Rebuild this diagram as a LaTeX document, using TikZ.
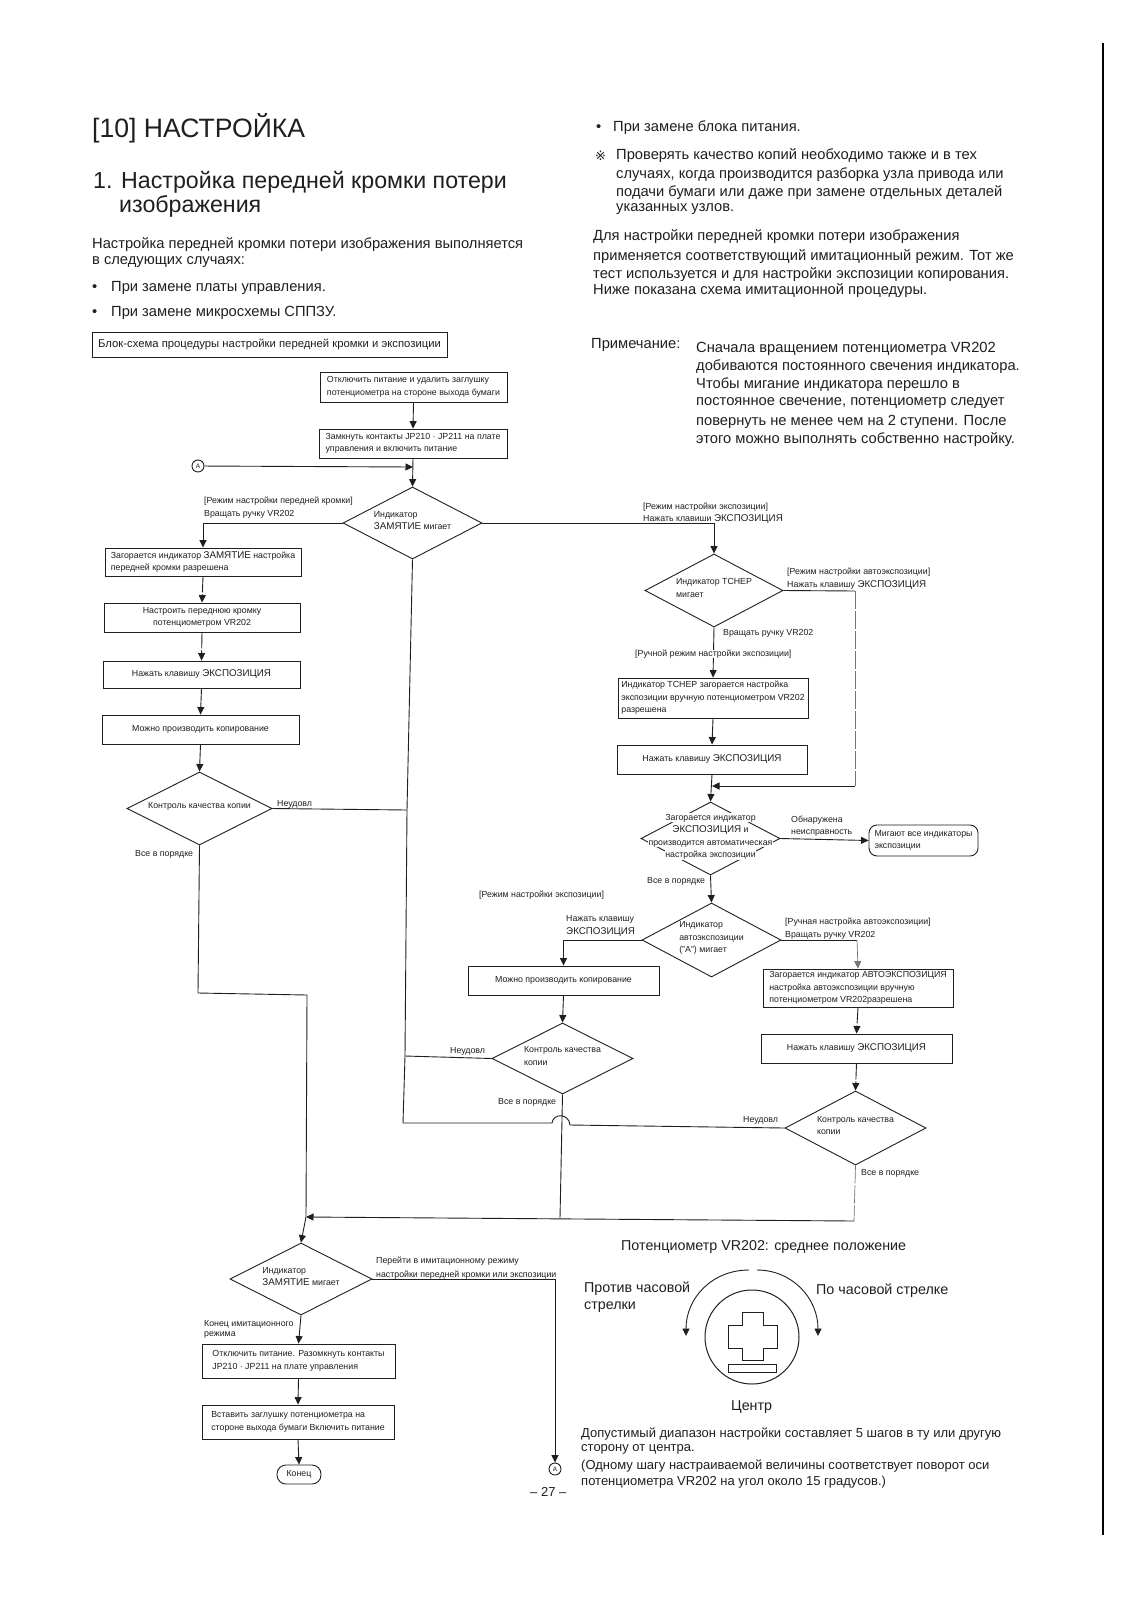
\documentclass[tikz,border=0pt]{standalone}
\usepackage{fontspec}
\setmainfont{Liberation Sans}
\newfontfamily\symfam{DejaVu Sans}
\usetikzlibrary{arrows.meta,shapes.geometric}
\definecolor{ink}{gray}{0.12}
\definecolor{soft}{gray}{0.45}
\newcommand{\CAPS}[1]{{\fontsize{9.8}{12}\selectfont #1}}
\newcommand{\wl}[1]{{\setlength{\fboxsep}{0.6pt}\colorbox{white}{#1}}}
\newcommand{\ctr}[1]{\smash{\makebox[0pt]{\begin{tabular}{@{}l@{}}#1\end{tabular}}}}
\newcommand{\ctrc}[1]{\smash{\makebox[0pt]{\begin{tabular}{@{}c@{}}#1\end{tabular}}}}
\tikzset{
  x=1pt,y=-1pt,
  flow/.style={draw=ink,line width=0.9pt},
  fl/.style={flow,-{Triangle[length=7.5pt,width=7pt]}},
  faint/.style={dash pattern=on 16pt off 2pt},
  paler/.style={draw=soft,line width=0.7pt,dash pattern=on 18pt off 2pt},
  txt/.style={anchor=west,inner sep=0pt,text=ink,align=left},
  body/.style={txt,font=\fontsize{14.7}{18}\selectfont},
  foot/.style={txt,font=\fontsize{13}{16}\selectfont},
  small/.style={txt,font=\fontsize{8.8}{12.5}\selectfont},
  big/.style={txt,font=\fontsize{14.3}{18}\selectfont},
  boxn/.style={draw=ink,line width=0.9pt,inner sep=1pt,fill=white,text=ink,font=\fontsize{8.8}{12.5}\selectfont},
  dia/.style={shape=diamond,draw=ink,line width=0.9pt,inner sep=0pt,text=ink,font=\fontsize{8.8}{12.5}\selectfont},
  ring/.style={circle,draw=ink,line width=0.9pt,minimum size=12pt,inner sep=0pt,font=\fontsize{6.5}{7}\selectfont,text=ink},
}
\newcommand{\bx}[7][]{\node[boxn,#1,minimum width={(#4-#2)*1pt},minimum height={(#5-#3)*1pt},#7] (#6) at ({(#2+#4)/2},{(#3+#5)/2})}
\newcommand{\dm}[6]{\node[dia,minimum width={(#3-#2)*1pt},minimum height={(#5-#4)*1pt}] (#1) at ({(#2+#3)/2},{(#4+#5)/2}) {#6};}
\begin{document}
\begin{tikzpicture}
\useasboundingbox[fill=white] (0,0) rectangle (1131,1600);
% page text, left
\node[txt,font=\fontsize{26.6}{30}\selectfont] (h1) at (92,128) {[10] НАСТРОЙКА};
\node[txt,font=\fontsize{23.2}{28}\selectfont] (h2a) at (93,182) {1. Настройка передней кромки потери};
\node[txt,font=\fontsize{23.2}{28}\selectfont] (h2b) at (119,206) {изображения};
\node[body] (p1) at (92,245) {Настройка передней кромки потери изображения выполняется};
\node[body] (p2) at (92,262) {в следующих случаях:};
\node[body] (bu1) at (92,288) {•};
\node[body] (t1) at (111,288) {При замене платы управления.};
\node[body] (bu2) at (92,313) {•};
\node[body] (t2) at (111,313) {При замене микросхемы СППЗУ.};
\bx{92}{332}{447}{357}{tb}{font=\fontsize{11.3}{13}\selectfont} {Блок-схема процедуры настройки передней кромки и экспозиции};
% page text, right
\node[body] (bu3) at (596,128) {•};
\node[body] (t3) at (613,128) {При замене блока питания.};
\node[txt,font=\symfam\fontsize{13}{14}\selectfont] (ref) at (595,156) {※};
\node[body] (r1) at (616,156) {Проверять качество копий необходимо также и в тех};
\node[body] (r2) at (616,175) {случаях, когда производится разборка узла привода или};
\node[body] (r3) at (616,193) {подачи бумаги или даже при замене отдельных деталей};
\node[body] (r4) at (616,209) {указанных узлов.};
\node[body] (r5) at (593,237) {Для настройки передней кромки потери изображения};
\node[body] (r6) at (593,257) {применяется соответствующий имитационный режим. Тот же};
\node[body] (r7) at (593,275) {тест используется и для настройки экспозиции копирования.};
\node[body] (r8) at (593,291) {Ниже показана схема имитационной процедуры.};
\node[body] (n0) at (591,345) {Примечание:};
\node[body] (n1) at (696,349) {Сначала вращением потенциометра VR202};
\node[body] (n2) at (696,367) {добиваются постоянного свечения индикатора.};
\node[body] (n3) at (696,385) {Чтобы мигание индикатора перешло в};
\node[body] (n4) at (696,403) {постоянное свечение, потенциометр следует};
\node[body] (n5) at (696,422) {повернуть не менее чем на 2 ступени. После};
\node[body] (n6) at (696,440) {этого можно выполнять собственно настройку.};
\coordinate (mt) at (1103,43);
\coordinate (mb) at (1103,1535);
\draw[line width=2.6pt,black] (mt) -- (mb);
% boxes
\bx[align=left]{320}{372}{507}{402}{b1}{} {Отключить питание и удалить заглушку\\потенциометра на стороне выхода бумаги};
\bx[align=left]{319}{429}{507}{458}{b2}{} {Замкнуть контакты JP210 · JP211 на плате\\управления и включить питание};
\bx[align=left]{105}{548}{301}{576}{b3}{} {Загорается индикатор \CAPS{ЗАМЯТИЕ} настройка\\передней кромки разрешена};
\bx[align=center]{104}{603}{300}{632}{b4}{} {Настроить переднюю кромку\\потенциометром VR202};
\bx{103}{661}{300}{688}{b5}{} {Нажать клавишу \CAPS{ЭКСПОЗИЦИЯ}};
\bx{102}{715}{299}{744}{b6}{} {Можно производить копирование};
\bx[align=left]{618}{678}{808}{718}{b7}{} {Индикатор ТСНЕР загорается настройка\\экспозиции вручную потенциометром VR202\\разрешена};
\bx{617}{745}{807}{774}{b8}{} {Нажать клавишу \CAPS{ЭКСПОЗИЦИЯ}};
\bx[align=left,rounded corners=8pt]{869}{825}{978}{856}{rb}{} {Мигают все индикаторы\\экспозиции};
\bx{468}{966}{659}{995}{b9}{} {Можно производить копирование};
\bx[align=left]{763}{969}{953}{1007}{b10}{} {Загорается индикатор АВТОЭКСПОЗИЦИЯ\\настройка автоэкспозиции вручную\\потенциометром VR202разрешена};
\bx{761}{1034}{952}{1063}{b11}{} {Нажать клавишу \CAPS{ЭКСПОЗИЦИЯ}};
\bx[align=left]{202}{1344}{395}{1378}{b12}{} {Отключить питание. Разомкнуть контакты\\JP210 · JP211 на плате управления};
\bx[align=left]{202}{1405}{394}{1439}{b13}{} {Вставить заглушку потенциометра на\\стороне выхода бумаги Включить питание};
\bx[rounded corners=9pt]{277}{1465}{321}{1484}{endn}{} {Конец};
% diamonds
\dm{d1}{343}{482}{487}{559}{\ctr{Индикатор\\\CAPS{ЗАМЯТИЕ} мигает}}
\dm{d2}{645}{783}{554}{627}{\ctr{Индикатор ТСНЕР\\мигает}}
\dm{d3}{641}{780}{802}{875}{\ctrc{\wl{Загорается индикатор}\\\wl{\CAPS{ЭКСПОЗИЦИЯ} и}\\\wl{производится автоматическая}\\\wl{настройка экспозиции}}}
\dm{d4}{642}{781}{903}{977}{\ctr{Индикатор\\автоэкспозиции\\("А") мигает}}
\dm{d5}{785}{926}{1091}{1165}{\ctr{Контроль качества\\копии}}
\dm{d6}{492}{633}{1023}{1094}{\ctr{Контроль качества\\копии}}
\dm{d7}{127}{272}{772}{845}{\ctr{Контроль качества копии}}
\dm{d8}{230}{372}{1243}{1315}{\ctr{Индикатор\\\CAPS{ЗАМЯТИЕ} мигает}}
% connector circles
\node[ring] (a1) at (198,466) {А};
\node[ring] (a2) at (555,1469) {А};
% junction coordinates
\coordinate (j1) at (413,467);
\coordinate (j2) at (407,810);
\coordinate (j3) at (405,1056);
\coordinate (k1) at (403,1123);
\coordinate (hl) at (552,1123);
\coordinate (hr) at (570,1125);
\coordinate (hc1) at (553,1113);
\coordinate (hc2) at (569,1113);
\coordinate (m1) at (560,1218);
\coordinate (c5) at (854,1221);
\coordinate (j8) at (306,1217);
\coordinate (c7a) at (198,993);
\coordinate (c7b) at (307,995);
\coordinate (c2a) at (855,591);
\coordinate (c2b) at (855,786);
\coordinate (j9) at (712,786);
\coordinate (c4) at (857,940);
% connectors
\draw[fl] (b1.south) -- (b2.north);
\draw[fl] (b2.south) -- (d1.north);
\draw[fl] (a1) -- (j1);
\draw[fl] (d1.west) -| (b3.north);
\draw[fl,faint] (b3.south) -- (b4.north);
\draw[fl,faint] (b4.south) -- (b5.north);
\draw[fl] (b5.south) -- (b6.north);
\draw[fl] (b6.south) -- (d7.north);
\draw[flow] (d7.east) -- (j2);
\draw[flow] (d1.south) -- (j2) -- (j3) -- (k1) -- (hl) .. controls (hc1) and (hc2) .. (hr) -- (d5.west);
\draw[flow] (d6.west) -- (j3);
\draw[fl] (d1.east) -| (d2.north);
\draw[fl] (d2.south) -- (b7.north);
\draw[fl] (b7.south) -- (b8.north);
\draw[fl] (b8.south) -- (d3.north);
\draw[flow] (d2.east) -- (c2a);
\draw[paler] (c2a) -- (c2b);
\draw[fl] (c2b) -- (j9);
\draw[fl] (d3.east) -- (rb.west);
\draw[fl] (d3.south) -- (d4.north);
\draw[fl] (d4.west) -| (b9.north);
\draw[flow] (d4.east) -- (c4);
\draw[fl,paler,solid] (c4) -- (b10.north);
\draw[fl] (b9.south) -- (d6.north);
\draw[fl,faint] (b10.south) -- (b11.north);
\draw[fl,faint] (b11.south) -- (d5.north);
\draw[flow] (d6.south) -- (m1);
\draw[paler] (d5.south) -- (c5);
\draw[fl] (c5) -- (j8);
\draw[flow] (d7.south) -- (c7a) -- (c7b) -- (j8);
\draw[fl] (j8) -- (d8.north);
\draw[fl] (d8.south) -- (b12.north);
\draw[fl] (b12.south) -- (b13.north);
\draw[fl] (b13.south) -- (endn.north);
\draw[fl] (d8.east) -| (a2.north);
% labels
\node[small] (l1) at (204,501) {[Режим настройки передней кромки]};
\node[small] (l2) at (204,514) {Вращать ручку VR202};
\node[small] (l3) at (643,507) {[Режим настройки экспозиции]};
\node[small] (l4) at (643,519) {Нажать клавиши \CAPS{ЭКСПОЗИЦИЯ}};
\node[small] (l5) at (787,572) {[Режим настройки автоэкспозиции]};
\node[small] (l6) at (787,585) {Нажать клавишу \CAPS{ЭКСПОЗИЦИЯ}};
\node[small] (l7) at (723,633) {Вращать ручку VR202};
\node[small,fill=white] (l8) at (635,654) {[Ручной режим настройки экспозиции]};
\node[small] (l9) at (791,820) {Обнаружена};
\node[small] (l10) at (791,833) {неисправность};
\node[small] (l11) at (647,881) {Все в порядке};
\node[small] (l12) at (479,895) {[Режим настройки экспозиции]};
\node[small] (l13) at (566,919) {Нажать клавишу};
\node[small] (l14) at (566,932) {\CAPS{ЭКСПОЗИЦИЯ}};
\node[small] (l15) at (785,922) {[Ручная настройка автоэкспозиции]};
\node[small] (l16) at (785,935) {Вращать ручку VR202};
\node[small] (l17) at (450,1051) {Неудовл};
\node[small] (l18) at (498,1102) {Все в порядке};
\node[small] (l19) at (743,1120) {Неудовл};
\node[small] (l20) at (861,1173) {Все в порядке};
\node[small] (l21) at (277,804) {Неудовл};
\node[small] (l22) at (135,854) {Все в порядке};
\node[small] (l23) at (376,1261) {Перейти в имитационному режиму};
\node[small] (l24) at (376,1275) {настройки передней кромки или экспозиции};
\node[small] (l25) at (204,1324) {Конец имитационного};
\node[small] (l26) at (204,1335) {режима};
\node[txt,font=\fontsize{13}{15}\selectfont] (pg) at (530,1492) {– 27 –};
% potentiometer
\node[big] (pt) at (621,1247) {Потенциометр VR202: среднее положение};
\node[big] (ccw1) at (584,1289) {Против часовой};
\node[big] (ccw2) at (584,1307) {стрелки};
\node[big] (cw) at (816,1291) {По часовой стрелке};
\node[big] (cen) at (731,1407) {Центр};
\draw[line width=1pt,draw=ink] (752,1337) circle[radius=47];
\draw[line width=1pt,draw=ink] (742,1312) -- (763,1312) -- (763,1325) -- (777,1325) -- (777,1348) -- (763,1348) -- (763,1360) -- (742,1360) -- (742,1348) -- (728,1348) -- (728,1325) -- (742,1325) -- cycle;
\draw[line width=1pt,draw=ink] (728,1364) rectangle (776,1372);
\draw[fl] (749,1270) .. controls (712,1270) and (686,1298) .. (686,1336);
\draw[fl] (757,1270) .. controls (792,1270) and (818,1298) .. (818,1336);
\node[foot] (q1) at (581,1434) {Допустимый диапазон настройки составляет 5 шагов в ту или другую};
\node[foot] (q2) at (581,1449) {сторону от центра.};
\node[foot] (q3) at (581,1466) {(Одному шагу настраиваемой величины соответствует поворот оси};
\node[foot] (q4) at (581,1482) {потенциометра VR202 на угол около 15 градусов.)};
\end{tikzpicture}
\end{document}
